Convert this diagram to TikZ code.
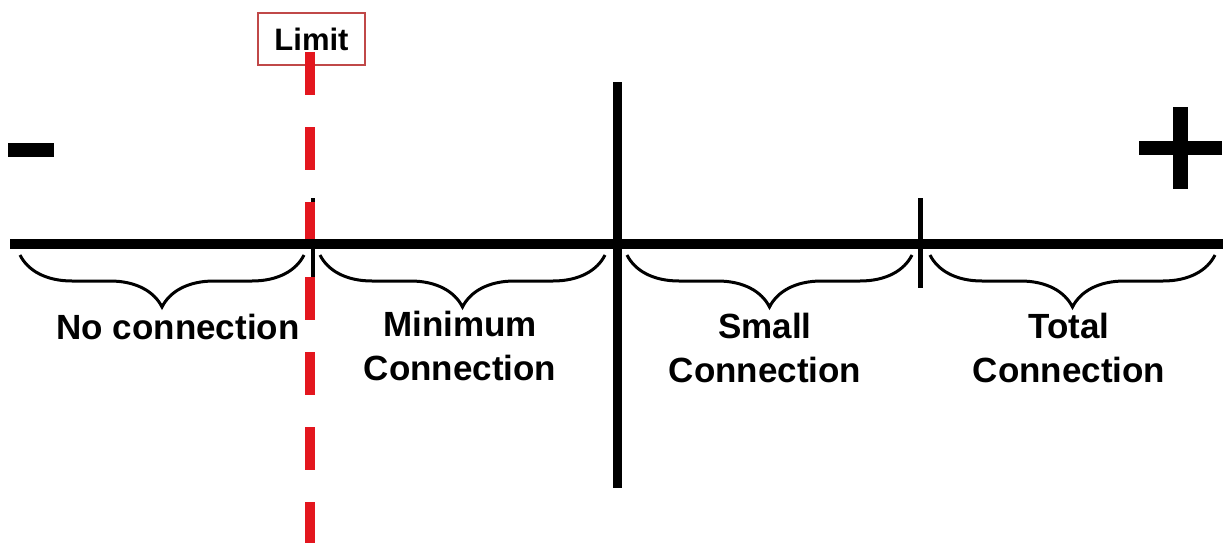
\documentclass[tikz,border=0pt]{standalone}
\usepackage{fontspec}
\setmainfont{Liberation Sans}
\usetikzlibrary{decorations.pathreplacing}
\definecolor{limRed}{HTML}{E3161E}
\definecolor{boxRed}{HTML}{C04848}

\begin{document}
\begin{tikzpicture}[x=1pt, y=-1pt,
  axis/.style={line width=10pt},
  tck/.style={line width=4pt},
  brc/.style={decorate, decoration={brace, mirror, amplitude=52pt}, line width=3pt},
  lbl/.style={font=\bfseries\fontsize{35}{44}\selectfont, align=center, anchor=north, inner sep=0pt},
  limbox/.style={draw=boxRed, fill=white, line width=1.5pt, minimum width=107pt, minimum height=52pt,
    inner sep=0pt, font=\bfseries\fontsize{31}{36}\selectfont},
  sgn/.style={fill=black}]
\useasboundingbox (0,0) rectangle (1223,543);
% scale ends and marks
\coordinate (axl) at (10,244);
\coordinate (axr) at (1223,244);
\coordinate (midtop) at (617,82);
\coordinate (midbot) at (617,488);
\coordinate (tottop) at (920,198);
\coordinate (totbot) at (920,288);
\coordinate (limtop) at (313,198);
\coordinate (limbot) at (313,285);
% limit box and dashed line
\node[limbox] (limit) at (311.5,39) {Limit};
\coordinate (dashtop) at (310,52);
\coordinate (dashbot) at (310,543);
\draw[tck] (limtop) -- (limbot);
\draw[limRed, line width=10pt, dash pattern=on 43pt off 32pt] (dashtop) -- (dashbot);
\draw[axis] (axl) -- (axr);
\draw[line width=9pt] (midtop) -- (midbot);
\draw[line width=5pt] (tottop) -- (totbot);
% signs
\fill[sgn] (8,143) rectangle (54,157);
\fill[sgn] (1139,141) rectangle (1222,155);
\fill[sgn] (1173,107) rectangle (1188,189);
% braces
\draw[brc] (20,255) -- (304,255);
\draw[brc] (320,255) -- (605,255);
\draw[brc] (627,255) -- (912,255);
\draw[brc] (930,255) -- (1215,255);
% labels
\node[lbl] (nocon) at (178,314) {No connection};
\node[lbl] (mincon) at (460,311) {Minimum\\Connection};
\node[lbl] (smcon) at (765,313) {Small\\Connection};
\node[lbl] (totcon) at (1069,313) {Total\\Connection};
\end{tikzpicture}
\end{document}
